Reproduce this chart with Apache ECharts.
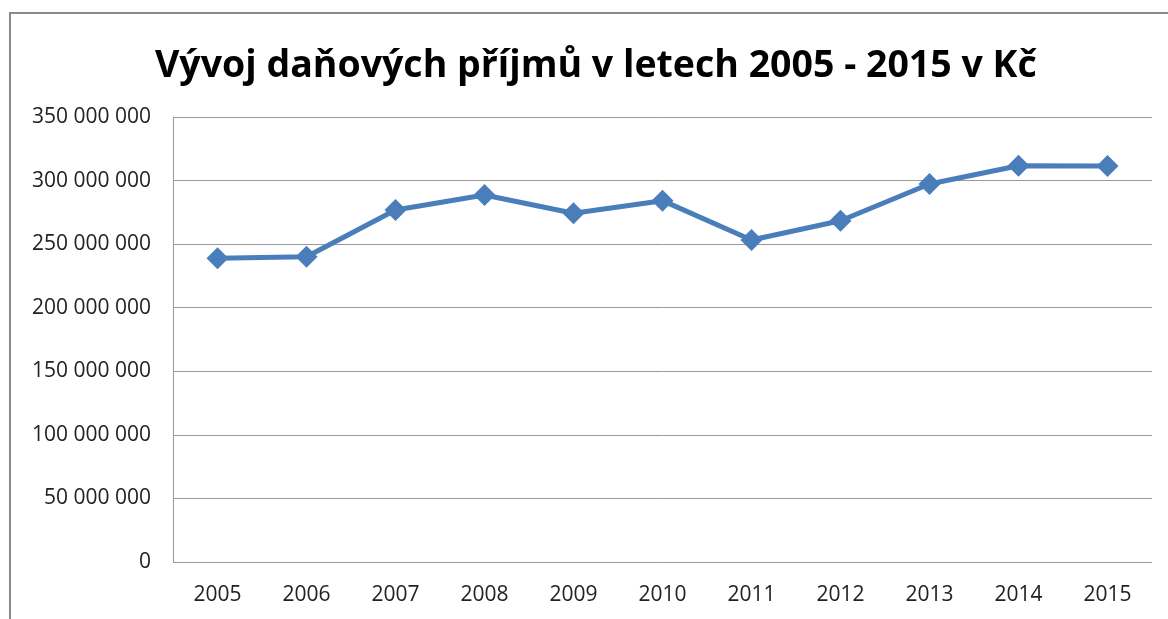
<!DOCTYPE html>
<html>
<head>
<meta charset="utf-8">
<script src="https://cdn.jsdelivr.net/npm/echarts@6/dist/echarts.min.js"></script>
<style>
  html, body { margin: 0; padding: 0; background: #fff; }
  #chart { width: 1168px; height: 619px; }
</style>
</head>
<body>
<div id="chart"></div>
<script>
const years = ['2005', '2006', '2007', '2008', '2009', '2010', '2011', '2012', '2013', '2014', '2015'];
const income = [238900000, 240100000, 276900000, 288700000, 274300000, 284200000, 253300000, 268400000, 297300000, 311700000, 311500000];
const yTicks = { min: 0, max: 350000000, interval: 50000000 };

const fmt = (v) => String(v).replace(/\B(?=(\d{3})+(?!\d))/g, ' ');

const myChart = echarts.init(document.getElementById('chart'));

const option = {
  animation: false,
  title: {
    text: 'Vývoj daňových příjmů v letech 2005 - 2015 v Kč',
    left: 150,
    top: 42,
    textStyle: {
      fontFamily: 'Open Sans',
      fontWeight: 'bold',
      fontSize: 37.5,
      color: '#000',
    },
  },
  graphic: [
    {
      type: 'rect',
      shape: { x: 10, y: 13, width: 1300, height: 800 },
      style: { fill: 'none', stroke: '#8a8a8a', lineWidth: 2 },
      silent: true,
    },
  ],
  grid: {
    left: 173,
    top: 117,
    right: 16,
    bottom: 57,
  },
  xAxis: {
    type: 'category',
    data: years,
    boundaryGap: true,
    axisLine: { show: false },
    axisTick: { show: false },
    axisLabel: {
      margin: 23,
      fontFamily: 'Open Sans',
      fontSize: 21,
      color: '#222',
    },
  },
  yAxis: {
    type: 'value',
    min: yTicks.min,
    max: yTicks.max,
    interval: yTicks.interval,
    axisLine: { show: true, lineStyle: { color: '#9a9a9a', width: 1 } },
    axisTick: { show: false },
    splitLine: { lineStyle: { color: '#9a9a9a', width: 1 } },
    axisLabel: {
      margin: 22,
      fontFamily: 'Open Sans',
      fontSize: 21,
      color: '#222',
      formatter: fmt,
    },
  },
  series: [
    {
      type: 'line',
      data: income,
      symbol: 'diamond',
      symbolSize: 22,
      lineStyle: { color: '#4a7ebb', width: 5 },
      itemStyle: { color: '#4a7ebb' },
    },
  ],
};

myChart.setOption(option);
</script>
</body>
</html>
